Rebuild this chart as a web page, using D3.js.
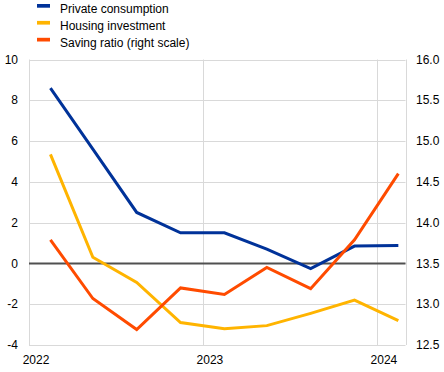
<!DOCTYPE html>
<html>
<head>
<meta charset="utf-8">
<script src="https://cdn.jsdelivr.net/npm/d3@7"></script>
<style>
  body { margin: 0; background: #fff; }
  text { font-family: Arial, "Liberation Sans", sans-serif; }
</style>
</head>
<body>
<div id="chart"></div>
<script>
(function () {

// quarterly observations, plotted at mid-quarter
var quarters = ["2022-02-15", "2022-05-15", "2022-08-15", "2022-11-15",
                "2023-02-15", "2023-05-15", "2023-08-15", "2023-11-15",
                "2024-02-15"];
var privateConsumption = [8.6, 5.6, 2.5, 1.5, 1.5, 0.7, -0.25, 0.85, 0.88];
var housingInvestment = [5.35, 0.3, -0.93, -2.9, -3.2, -3.05, -2.45, -1.8, -2.8];
var savingRatio = [13.79, 13.07, 12.69, 13.2, 13.12, 13.45, 13.19, 13.79, 14.6];

var leftTicks = [-4, -2, 0, 2, 4, 6, 8, 10];
var rightTicks = [12.5, 13.0, 13.5, 14.0, 14.5, 15.0, 15.5, 16.0];
var yearTicks = ["2022-01-01", "2023-01-01", "2024-01-01"];

var series = [
  { name: "Private consumption", values: privateConsumption, color: "#003299", axis: "left" },
  { name: "Housing investment", values: housingInvestment, color: "#ffb400", axis: "left" },
  { name: "Saving ratio (right scale)", values: savingRatio, color: "#ff4b00", axis: "right" }
];

var width = 444;
var height = 372;
var plot = { left: 29, right: 405.5, top: 59.5, bottom: 345 };

var parseDate = d3.timeParse("%Y-%m-%d");
var dates = quarters.map(parseDate);

var svg = d3.select("#chart")
  .append("svg")
  .attr("width", width)
  .attr("height", height);

var x = d3.scaleTime()
  .domain([parseDate("2022-01-01"), parseDate("2024-03-01")])
  .range([plot.left, plot.right]);

var yLeft = d3.scaleLinear().domain([-4, 10]).range([plot.bottom, plot.top]);
var yRight = d3.scaleLinear().domain([12.5, 16]).range([plot.bottom, plot.top]);

// horizontal gridlines
svg.append("g")
  .selectAll("line")
  .data(leftTicks)
  .enter().append("line")
  .attr("x1", plot.left)
  .attr("x2", plot.right)
  .attr("y1", function(d) { return Math.round(yLeft(d)) + 0.5; })
  .attr("y2", function(d) { return Math.round(yLeft(d)) + 0.5; })
  .style("stroke", "#d9d9d9")
  .style("stroke-width", 1);

// vertical gridlines (years + right edge)
var vLines = yearTicks.map(function(d) { return x(parseDate(d)); });
vLines.push(plot.right);
svg.append("g")
  .selectAll("line")
  .data(vLines)
  .enter().append("line")
  .attr("x1", function(d) { return Math.round(d) + 0.5; })
  .attr("x2", function(d) { return Math.round(d) + 0.5; })
  .attr("y1", plot.top)
  .attr("y2", plot.bottom)
  .style("stroke", "#d9d9d9")
  .style("stroke-width", 1);

// zero line
svg.append("line")
  .attr("x1", plot.left)
  .attr("x2", plot.right)
  .attr("y1", yLeft(0))
  .attr("y2", yLeft(0))
  .style("stroke", "#505050")
  .style("stroke-width", 2);

// lines
series.forEach(function(s) {
  var yScale = s.axis === "left" ? yLeft : yRight;
  var line = d3.line()
    .x(function(d, i) { return x(dates[i]); })
    .y(function(d) { return yScale(d); });
  svg.append("path")
    .datum(s.values)
    .style("fill", "none")
    .style("stroke", s.color)
    .style("stroke-width", 3)
    .style("stroke-linejoin", "miter")
    .attr("d", line);
});

// left axis labels
svg.append("g")
  .selectAll("text")
  .data(leftTicks)
  .enter().append("text")
  .attr("x", 18)
  .attr("y", function(d) { return yLeft(d); })
  .attr("dy", "0.35em")
  .attr("text-anchor", "end")
  .style("font-size", "12px")
  .style("fill", "#000")
  .text(function(d) { return d; });

// right axis labels
svg.append("g")
  .selectAll("text")
  .data(rightTicks)
  .enter().append("text")
  .attr("x", 416)
  .attr("y", function(d) { return yRight(d); })
  .attr("dy", "0.35em")
  .style("font-size", "12px")
  .style("fill", "#000")
  .text(function(d) { return d.toFixed(1); });

// x labels
svg.append("g")
  .selectAll("text")
  .data(yearTicks)
  .enter().append("text")
  .attr("x", function(d) { return x(parseDate(d)) + 7; })
  .attr("y", 364)
  .attr("text-anchor", "middle")
  .style("font-size", "12px")
  .style("fill", "#000")
  .text(function(d) { return d.slice(0, 4); });

// legend
var legend = svg.append("g");
series.forEach(function(s, i) {
  var base = 12.7 + i * 16.9;
  legend.append("rect")
    .attr("x", 37)
    .attr("y", base - 8.7)
    .attr("width", 13)
    .attr("height", 3.7)
    .style("fill", s.color);
  legend.append("text")
    .attr("x", 60)
    .attr("y", base)
    .style("font-size", "12px")
    .style("fill", "#000")
    .text(s.name);
});

})();
</script>
</body>
</html>
